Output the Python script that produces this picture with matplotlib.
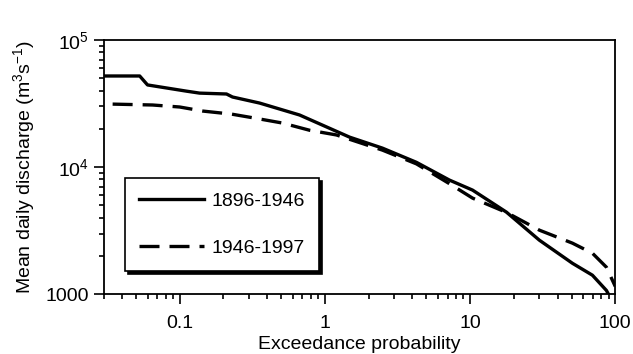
import matplotlib
matplotlib.use('Agg')
import matplotlib.pyplot as plt
from matplotlib.ticker import FixedLocator, FixedFormatter, LogLocator, NullFormatter

plt.rcParams['font.family'] = ['Liberation Sans', 'DejaVu Sans']
plt.rcParams['mathtext.fontset'] = 'custom'
plt.rcParams['mathtext.rm'] = 'Liberation Sans'
plt.rcParams['mathtext.it'] = 'Liberation Sans'

# flow duration curves
prob_old = [0.03, 0.053, 0.060, 0.111, 0.137, 0.210, 0.231, 0.355, 0.669, 1.48, 2.49,
            4.27, 7.21, 10.4, 17.8, 30.0, 50.7, 69.6, 86.9, 89.7]
flow_old = [52100, 52100, 44300, 39600, 38200, 37600, 35600, 31900, 25700, 17200, 14100,
            10900, 7900, 6590, 4420, 2660, 1750, 1410, 1070, 1000]

prob_new = [0.0345, 0.065, 0.1, 0.144, 0.228, 0.328, 0.511, 0.783, 1.20, 2.49, 4.27,
            7.21, 10.4, 17.8, 30.0, 50.7, 69.6, 86.9, 94.0, 97.0, 100]
flow_new = [31300, 30800, 29700, 27600, 26100, 24300, 22200, 19500, 17900, 13600, 10600,
            7400, 5700, 4400, 3190, 2520, 2100, 1630, 1340, 1240, 1150]

labels = ['1896-1946', '1946-1997']

fig = plt.figure(figsize=(6.33, 3.54), dpi=100)
ax = fig.add_axes([0.164, 0.169, 0.808, 0.718])

ax.plot(prob_old, flow_old, color='black', lw=2.4, label=labels[0])
ax.plot(prob_new, flow_new, color='black', lw=2.4, linestyle=(0, (6, 3)), label=labels[1])

ax.set_xscale('log')
ax.set_yscale('log')
ax.set_xlim(0.03, 100)
ax.set_ylim(1000, 1e5)

ax.xaxis.set_major_locator(FixedLocator([0.1, 1, 10, 100]))
ax.xaxis.set_major_formatter(FixedFormatter(['0.1', '1', '10', '100']))
ax.xaxis.set_minor_locator(LogLocator(base=10, subs=range(2, 10)))
ax.xaxis.set_minor_formatter(NullFormatter())
ax.yaxis.set_major_locator(FixedLocator([1000, 1e4, 1e5]))
ax.yaxis.set_major_formatter(FixedFormatter(['1000', '$10^4$', '$10^5$']))
ax.yaxis.set_minor_locator(LogLocator(base=10, subs=range(2, 10)))
ax.yaxis.set_minor_formatter(NullFormatter())

ax.tick_params(which='both', direction='out', top=False, right=False, width=1.2)
ax.tick_params(which='major', length=7, labelsize=14)
ax.tick_params(axis='x', which='major', pad=8)
ax.tick_params(which='minor', length=3.5)
for s in ax.spines.values():
    s.set_linewidth(1.3)

ax.set_xlabel('Exceedance probability', fontsize=14, labelpad=3)
ax.set_ylabel('Mean daily discharge (m$^3$s$^{-1}$)', fontsize=14, labelpad=6)

leg = ax.legend(loc='lower left', bbox_to_anchor=(0.041, 0.09), borderaxespad=0,
                fancybox=False, shadow={'color': 'black', 'alpha': 1},
                edgecolor='black', framealpha=1, fontsize=14,
                handlelength=3.3, handletextpad=0.4, labelspacing=1.5, borderpad=0.75)
leg.get_frame().set_linewidth(1.2)

fig.savefig('out.png', dpi=100)
